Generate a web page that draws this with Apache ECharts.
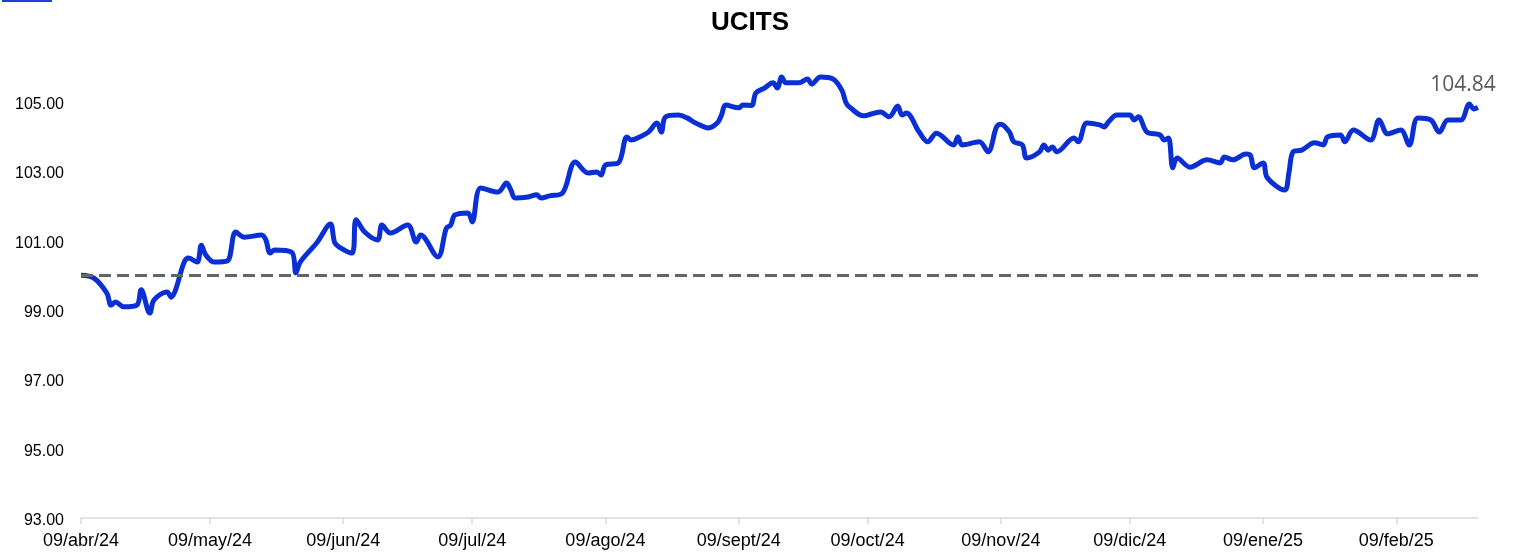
<!DOCTYPE html>
<html>
<head>
<meta charset="utf-8">
<script src="https://cdn.jsdelivr.net/npm/echarts@6/dist/echarts.min.js"></script>
<style>
html,body{margin:0;padding:0;background:#fff;}
#c{width:1514px;height:553px;}
</style>
</head>
<body>
<div id="c"></div>
<script>
// Axis range (calendar days)
const startDate = '2024-04-09';
const endDate = '2025-02-28';
const monthAbbr = ['ene','feb','mar','abr','may','jun','jul','ago','sept','oct','nov','dic'];
const yTicks = { min: 93, max: 107, interval: 2 };
const baseline = 100;

// Readings (date, value)
const dates = [
'2024-04-09','2024-04-12','2024-04-15','2024-04-16','2024-04-17','2024-04-19','2024-04-22','2024-04-23','2024-04-25','2024-04-26',
'2024-04-29','2024-04-30','2024-05-01','2024-05-03','2024-05-04','2024-05-06','2024-05-07','2024-05-08','2024-05-10','2024-05-13',
'2024-05-15','2024-05-17','2024-05-21','2024-05-22','2024-05-23','2024-05-24','2024-05-28','2024-05-29','2024-05-30','2024-06-03',
'2024-06-06','2024-06-07','2024-06-08','2024-06-11','2024-06-12','2024-06-14','2024-06-17','2024-06-18','2024-06-20','2024-06-24',
'2024-06-26','2024-06-27','2024-07-01','2024-07-03','2024-07-04','2024-07-05','2024-07-08','2024-07-09','2024-07-11','2024-07-15',
'2024-07-17','2024-07-18','2024-07-19','2024-07-22','2024-07-24','2024-07-25','2024-07-27','2024-07-30','2024-08-02','2024-08-05',
'2024-08-07','2024-08-08','2024-08-09','2024-08-12','2024-08-14','2024-08-15','2024-08-17','2024-08-19','2024-08-21','2024-08-22',
'2024-08-23','2024-08-26','2024-08-28','2024-08-30','2024-09-02','2024-09-04','2024-09-05','2024-09-06','2024-09-09','2024-09-10',
'2024-09-12','2024-09-13','2024-09-15','2024-09-17','2024-09-18','2024-09-19','2024-09-20','2024-09-23','2024-09-25','2024-09-26',
'2024-09-28','2024-10-01','2024-10-03','2024-10-04','2024-10-05','2024-10-08','2024-10-09','2024-10-12','2024-10-14','2024-10-16',
'2024-10-17','2024-10-18','2024-10-21','2024-10-23','2024-10-25','2024-10-29','2024-10-30','2024-10-31','2024-11-04','2024-11-06',
'2024-11-08','2024-11-09','2024-11-11','2024-11-12','2024-11-14','2024-11-15','2024-11-18','2024-11-19','2024-11-20','2024-11-21',
'2024-11-22','2024-11-26','2024-11-27','2024-11-29','2024-12-02','2024-12-03','2024-12-04','2024-12-06','2024-12-09','2024-12-10',
'2024-12-11','2024-12-13','2024-12-16','2024-12-17','2024-12-18','2024-12-19','2024-12-20','2024-12-23','2024-12-27','2024-12-30',
'2024-12-31','2025-01-02','2025-01-05','2025-01-06','2025-01-07','2025-01-09','2025-01-10','2025-01-14','2025-01-15','2025-01-16',
'2025-01-18','2025-01-21','2025-01-23','2025-01-24','2025-01-27','2025-01-28','2025-01-30','2025-02-03','2025-02-05','2025-02-07',
'2025-02-10','2025-02-12','2025-02-14','2025-02-17','2025-02-19','2025-02-21','2025-02-24','2025-02-26','2025-02-27','2025-02-28'
];
const values = [
100.00,99.92,99.49,99.14,99.23,99.09,99.14,99.58,98.91,99.29,
99.52,99.37,99.58,100.38,100.50,100.38,100.87,100.59,100.38,100.41,
101.25,101.10,101.16,101.02,100.64,100.73,100.67,100.07,100.38,100.96,
101.48,100.95,100.82,100.64,101.60,101.25,101.02,101.45,101.22,101.45,
100.96,101.16,100.53,101.36,101.45,101.74,101.80,101.54,102.52,102.40,
102.66,102.46,102.23,102.26,102.32,102.23,102.29,102.37,103.27,102.95,
102.98,102.89,103.18,103.24,103.99,103.90,103.99,104.13,104.39,104.13,
104.57,104.62,104.54,104.39,104.25,104.39,104.62,104.91,104.83,104.91,
104.90,105.26,105.40,105.55,105.40,105.72,105.55,105.55,105.66,105.52,
105.72,105.66,105.34,104.97,104.83,104.60,104.62,104.71,104.57,104.88,
104.62,104.68,104.13,103.85,104.10,103.76,103.99,103.76,103.85,103.56,
104.28,104.36,104.13,103.85,103.76,103.38,103.56,103.76,103.61,103.70,
103.56,103.96,103.85,104.39,104.34,104.28,104.42,104.62,104.62,104.48,
104.57,104.13,104.05,103.90,103.96,103.10,103.38,103.12,103.33,103.24,
103.41,103.33,103.50,103.47,103.10,103.24,102.81,102.46,102.95,103.56,
103.61,103.82,103.76,103.99,104.05,103.85,104.19,103.90,104.48,104.08,
104.19,103.76,104.54,104.48,104.13,104.48,104.48,104.94,104.80,104.84
];

// Build calendar-day categories
function parse(s){const p=s.split('-');return Date.UTC(+p[0],+p[1]-1,+p[2]);}
const DAY=86400000;
const t0=parse(startDate), t1=parse(endDate);
const categories=[], dayOfMonth=[];
for(let t=t0;t<=t1;t+=DAY){
  const d=new Date(t);
  const dd=d.getUTCDate();
  categories.push(String(dd).padStart(2,'0')+'/'+monthAbbr[d.getUTCMonth()]+'/'+String(d.getUTCFullYear()).slice(2));
  dayOfMonth.push(dd);
}
const seriesData=new Array(categories.length).fill(null);
dates.forEach((s,i)=>{
  const idx=Math.round((parse(s)-t0)/DAY);
  seriesData[idx]=values[i];
});
const lastIdx=Math.round((parse(dates[dates.length-1])-t0)/DAY);
const lastVal=values[values.length-1];
const tickShow=(i)=>dayOfMonth[i]===9;

const chart=echarts.init(document.getElementById('c'),null,{renderer:'canvas'});
chart.setOption({
  animation:false,
  backgroundColor:'#ffffff',
  title:{text:'UCITS',left:706,top:5,textStyle:{fontFamily:'Liberation Sans, Arial, sans-serif',fontWeight:'bold',fontSize:26,color:'#000'}},
  graphic:[{type:'rect',left:2,top:0,shape:{width:50,height:2},style:{fill:'#1f3fd6'}}],
  grid:{left:81,right:36,top:32.6,bottom:35,containLabel:false},
  xAxis:{
    type:'category',data:categories,boundaryGap:false,
    axisLine:{lineStyle:{color:'#d9d9d9',width:1.5}},
    axisTick:{show:true,interval:tickShow,length:6,lineStyle:{color:'#d9d9d9',width:1.5}},
    axisLabel:{interval:tickShow,color:'#000',fontSize:18,fontFamily:'Liberation Sans, Arial, sans-serif',margin:14},
    splitLine:{show:false}
  },
  yAxis:{
    type:'value',min:yTicks.min,max:yTicks.max,interval:yTicks.interval,
    axisLine:{show:false},axisTick:{show:false},splitLine:{show:false},
    axisLabel:{showMaxLabel:false,formatter:v=>'{a|'+v.toFixed(2)+'}',margin:17,
      rich:{a:{color:'#000',fontSize:16,fontFamily:'Liberation Sans, Arial, sans-serif',padding:[5,0,0,0]}}}
  },
  series:[{
    type:'line',data:seriesData,connectNulls:true,smooth:0.35,showSymbol:false,symbol:'none',
    lineStyle:{color:'#0a2fd2',width:5},
    itemStyle:{color:'#0a2fd2'},
    markLine:{silent:true,symbol:'none',label:{show:false},
      lineStyle:{color:'#5f6670',width:3,type:[12,6]},
      data:[{yAxis:baseline}]},
    markPoint:{silent:true,symbol:'circle',symbolSize:0,
      data:[{coord:[lastIdx,lastVal],value:lastVal}],
      label:{show:true,position:'inside',offset:[-15,-22],formatter:p=>Number(p.value).toFixed(2),
        color:'#595959',fontSize:21,fontFamily:'Open Sans, Noto Sans, sans-serif'}},
    z:3
  }]
});
</script>
</body>
</html>
